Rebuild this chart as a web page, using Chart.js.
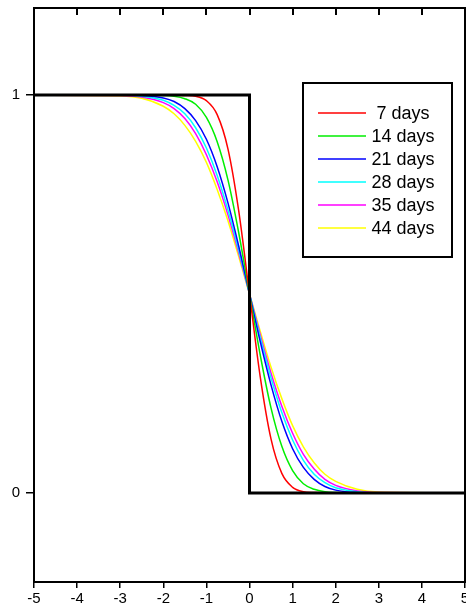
<!DOCTYPE html>
<html>
<head>
<meta charset="utf-8">
<script src="https://cdn.jsdelivr.net/npm/chart.js@4/dist/chart.umd.min.js"></script>
<style>
  html, body { margin: 0; padding: 0; background: #fff; }
  #wrap { width: 466px; height: 609px; position: relative; }
</style>
</head>
<body>
<div id="wrap"><canvas id="myChart"></canvas></div>
<script>
const xValues = [-5, -3, -2.5, -2, -1.75, -1.5, -1.25, -1, -0.75, -0.5, -0.25, 0, 0.25, 0.5, 0.75, 1, 1.25, 1.5, 1.75, 2, 2.5, 3, 5];

// profile values for each time
const days7  = [1, 1, 1, 1, 1, 0.999, 0.997, 0.986, 0.951, 0.865, 0.709, 0.5, 0.291, 0.135, 0.049, 0.014, 0.003, 0.001, 0, 0, 0, 0, 0];
const days14 = [1, 1, 1, 0.999, 0.997, 0.991, 0.977, 0.944, 0.883, 0.787, 0.654, 0.5, 0.346, 0.213, 0.117, 0.056, 0.023, 0.009, 0.003, 0.001, 0, 0, 0];
const days21 = [1, 1, 0.999, 0.993, 0.984, 0.966, 0.936, 0.889, 0.820, 0.729, 0.620, 0.5, 0.380, 0.271, 0.180, 0.111, 0.064, 0.034, 0.016, 0.007, 0.001, 0, 0];
const days28 = [1, 1, 0.997, 0.987, 0.974, 0.953, 0.918, 0.867, 0.798, 0.711, 0.610, 0.5, 0.390, 0.289, 0.202, 0.133, 0.082, 0.047, 0.026, 0.013, 0.003, 0, 0];
const days35 = [1, 0.999, 0.995, 0.981, 0.966, 0.941, 0.903, 0.850, 0.782, 0.699, 0.603, 0.5, 0.397, 0.301, 0.218, 0.150, 0.097, 0.060, 0.034, 0.019, 0.005, 0.001, 0];
const days44 = [1, 0.998, 0.992, 0.972, 0.953, 0.924, 0.884, 0.831, 0.763, 0.684, 0.594, 0.5, 0.406, 0.316, 0.237, 0.169, 0.116, 0.076, 0.047, 0.029, 0.009, 0.002, 0];

// initial step profile
const stepX = [-5, 0, 0, 5];
const stepY = [1, 1, 0, 0];

const seriesLabels = ['7 days', '14 days', '21 days', '28 days', '35 days', '44 days'];
const seriesValues = [days7, days14, days21, days28, days35, days44];
const seriesColors = ['#ff0000', '#00ee00', '#0000ff', '#00ffff', '#ff00ff', '#ffff00'];

const xTicks = [-5, -4, -3, -2, -1, 0, 1, 2, 3, 4, 5];
const yTicks = [0, 1];

function toPoints(xs, ys) {
  return xs.map((x, i) => ({ x: x, y: ys[i] }));
}

const datasets = seriesValues.map((vals, i) => ({
  label: seriesLabels[i],
  data: toPoints(xValues, vals),
  borderColor: seriesColors[i],
  borderWidth: 1.5,
  pointRadius: 0,
  cubicInterpolationMode: 'monotone',
  fill: false,
  order: 2
}));

datasets.push({
  label: 'step',
  data: toPoints(stepX, stepY),
  borderColor: '#000',
  borderWidth: 3,
  pointRadius: 0,
  tension: 0,
  fill: false,
  order: 1
});

// frame, inner top ticks and the boxed legend
const framePlugin = {
  id: 'frame',
  afterDraw(chart) {
    const ctx = chart.ctx;
    const a = chart.chartArea;
    const xs = chart.scales.x;
    ctx.save();
    ctx.strokeStyle = '#000';
    ctx.lineWidth = 2;
    ctx.strokeRect(a.left, a.top, a.right - a.left, a.bottom - a.top);
    ctx.beginPath();
    xTicks.forEach(t => {
      const px = Math.round(xs.getPixelForValue(t));
      ctx.moveTo(px, a.top);
      ctx.lineTo(px, a.top + 7);
    });
    ctx.stroke();

    // legend box
    const bx = 303, by = 83, bw = 149, bh = 174;
    ctx.fillStyle = '#fff';
    ctx.fillRect(bx, by, bw, bh);
    ctx.lineWidth = 2;
    ctx.strokeRect(bx, by, bw, bh);
    ctx.font = '18px "Liberation Sans", Arial, sans-serif';
    ctx.textAlign = 'center';
    ctx.textBaseline = 'middle';
    seriesLabels.forEach((lab, i) => {
      const y = by + 30 + i * 23;
      ctx.strokeStyle = seriesColors[i];
      ctx.lineWidth = 1.5;
      ctx.beginPath();
      ctx.moveTo(318, y);
      ctx.lineTo(366, y);
      ctx.stroke();
      ctx.fillStyle = '#000';
      ctx.fillText(lab, 403, y + 1);
    });
    ctx.restore();
  }
};

const ctx = document.getElementById('myChart').getContext('2d');
const myChart = new Chart(ctx, {
  type: 'line',
  data: { datasets: datasets },
  options: {
    responsive: true,
    maintainAspectRatio: false,
    animation: false,
    layout: { padding: { top: 8, right: 1, left: 0, bottom: 0 } },
    plugins: {
      legend: { display: false },
      tooltip: { enabled: false }
    },
    scales: {
      x: {
        type: 'linear',
        min: -5,
        max: 5,
        afterBuildTicks: s => { s.ticks = xTicks.map(v => ({ value: v })); },
        afterFit: s => { s.height = 27; s.paddingLeft = 0; s.paddingRight = 0; },
        grid: { drawOnChartArea: false, drawTicks: true, tickLength: 6, color: '#000', lineWidth: 1.5 },
        border: { display: true, color: '#000', width: 2 },
        ticks: {
          color: '#000',
          padding: 2,
          maxRotation: 0,
          autoSkip: false,
          font: { family: '"Liberation Sans", Arial, sans-serif', size: 15 }
        }
      },
      y: {
        type: 'linear',
        min: -0.224,
        max: 1.219,
        afterBuildTicks: s => { s.ticks = yTicks.map(v => ({ value: v })); },
        afterFit: s => { s.width = 34; s.paddingTop = 0; s.paddingBottom = 0; },
        grid: { drawOnChartArea: false, drawTicks: true, tickLength: 8, color: '#000', lineWidth: 1.5 },
        border: { display: true, color: '#000', width: 2 },
        ticks: {
          color: '#000',
          padding: 6,
          font: { family: '"Liberation Sans", Arial, sans-serif', size: 15 }
        }
      }
    }
  },
  plugins: [framePlugin]
});
</script>
</body>
</html>
